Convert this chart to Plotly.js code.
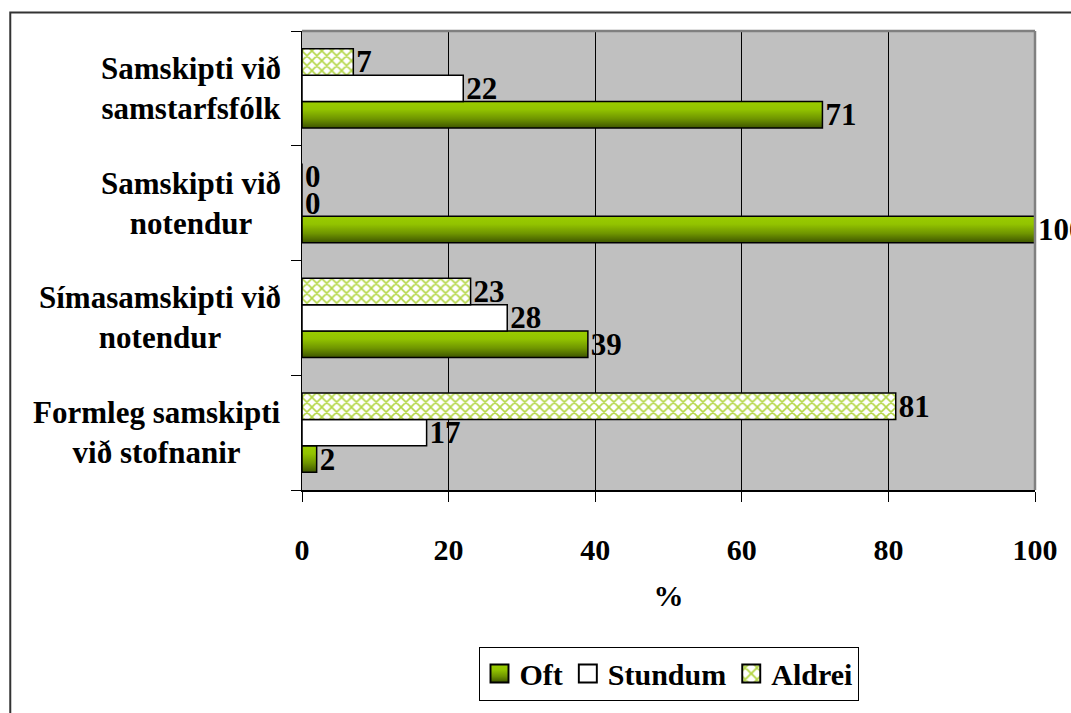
<!DOCTYPE html>
<html>
<head>
<meta charset="utf-8">
<script src="https://cdn.plot.ly/plotly-3.0.1.min.js"></script>
<style>html,body{margin:0;padding:0;background:#fff;}#chart{width:1071px;height:713px;}</style>
</head>
<body>
<div id="chart"></div>
<script>
var categories = ["Formleg samskipti<br>við stofnanir", "Símasamskipti við<br>notendur", "Samskipti við<br>notendur", "Samskipti við<br>samstarfsfólk"];
var oft = [2, 39, 100, 71];
var stundum = [17, 28, 0, 22];
var aldrei = [81, 23, 0, 7];
var xTicks = [0, 20, 40, 60, 80, 100];

var FONT = "'Times New Roman', 'Liberation Serif', serif";
var OFT_COLOR = "rgb(122, 158, 1)";

function barTrace(name, vals, marker) {
  return {
    type: "bar", orientation: "h", name: name,
    y: categories, x: vals,
    text: vals.map(String), textposition: "outside", cliponaxis: false,
    constraintext: "none",
    textfont: {family: FONT, size: 31, color: "#000", weight: "bold"},
    marker: marker, hoverinfo: "none"
  };
}

var traces = [
  barTrace("Oft", oft, {color: OFT_COLOR, line: {color: "#000", width: 1.5}}),
  barTrace("Stundum", stundum, {color: "#ffffff", line: {color: "#000", width: 1.5}}),
  barTrace("Aldrei", aldrei, {color: "#ffffff", line: {color: "#000", width: 1.5},
    pattern: {shape: "x", fgcolor: "#b3d645", bgcolor: "#ffffff", size: 7, solidity: 0.4}})
];

var annotations = categories.map(function (c) {
  return {text: c, xref: "paper", x: -0.026, xanchor: "right", yref: "y", y: c,
    yanchor: "middle", align: "center", showarrow: false,
    font: {family: FONT, size: 31, color: "#000", weight: "bold"}};
});

var layout = {
  width: 1071, height: 713,
  margin: {l: 302, r: 36, t: 31, b: 213},
  paper_bgcolor: "#ffffff", plot_bgcolor: "#c0c0c0",
  barmode: "group", bargap: 0.31, bargroupgap: 0,
  font: {family: FONT, size: 30, color: "#000", weight: "bold"},
  showlegend: true,
  legend: {orientation: "h", x: 0.5, xanchor: "center", y: -0.341, yanchor: "top",
    bordercolor: "#000", borderwidth: 1, bgcolor: "#fff", traceorder: "normal",
    font: {family: FONT, size: 30, color: "#000", weight: "bold"}, itemwidth: 30},
  xaxis: {range: [0, 100], tickvals: xTicks, ticktext: xTicks.map(String),
    showgrid: true, gridcolor: "#000", gridwidth: 1, zeroline: false,
    showline: true, linecolor: "#000", linewidth: 1.5,
    ticks: "outside", ticklen: 10, tickcolor: "#000", ticklabelstandoff: 22,
    tickfont: {family: FONT, size: 30, color: "#000", weight: "bold"},
    title: {text: "%", standoff: 20, font: {family: FONT, size: 30, color: "#000", weight: "bold"}},
    fixedrange: true},
  yaxis: {type: "category", categoryorder: "array", categoryarray: categories,
    showticklabels: false, tickson: "boundaries", ticks: "outside", ticklen: 10, tickcolor: "#000",
    showgrid: false, showline: true, linecolor: "#000", linewidth: 1.5, fixedrange: true},
  annotations: annotations,
  shapes: [
    {type: "line", xref: "paper", yref: "paper", x0: 0, x1: 1, y0: 1, y1: 1, line: {color: "#808080", width: 2.5}},
    {type: "line", xref: "paper", yref: "paper", x0: 1, x1: 1, y0: 0, y1: 1, line: {color: "#808080", width: 2.5}},
    {type: "rect", xref: "paper", yref: "paper", x0: -0.398, x1: 1.2, y0: -0.6, y1: 1.0405,
      line: {color: "#333", width: 2}, layer: "below"}
  ]
};

Plotly.newPlot("chart", traces, layout, {displayModeBar: false, staticPlot: true}).then(function (gd) {
  var svg = gd.querySelector("svg.main-svg");
  var ns = "http://www.w3.org/2000/svg";
  var defs = svg.querySelector("defs") || svg.insertBefore(document.createElementNS(ns, "defs"), svg.firstChild);
  var g = document.createElementNS(ns, "linearGradient");
  g.setAttribute("id", "oftGrad");
  g.setAttribute("x1", "0"); g.setAttribute("y1", "0");
  g.setAttribute("x2", "0"); g.setAttribute("y2", "1");
  [["0", "#9acd00"], ["0.3", "#92c300"], ["0.65", "#6f9500"], ["1", "#3e5500"]].forEach(function (s) {
    var st = document.createElementNS(ns, "stop");
    st.setAttribute("offset", s[0]); st.setAttribute("stop-color", s[1]);
    g.appendChild(st);
  });
  defs.appendChild(g);
  gd.querySelectorAll("path").forEach(function (p) {
    var f = p.style.fill.replace(/\s/g, "");
    if (f === "rgb(122,158,1)") p.style.fill = "url(#oftGrad)";
  });
  gd.querySelectorAll(".legendpoints path").forEach(function (p) {
    var t = p.getAttribute("transform") || "";
    p.setAttribute("transform", t + " scale(1.5)");
    p.style.strokeWidth = "1.3px";
  });
});
</script>
</body>
</html>
